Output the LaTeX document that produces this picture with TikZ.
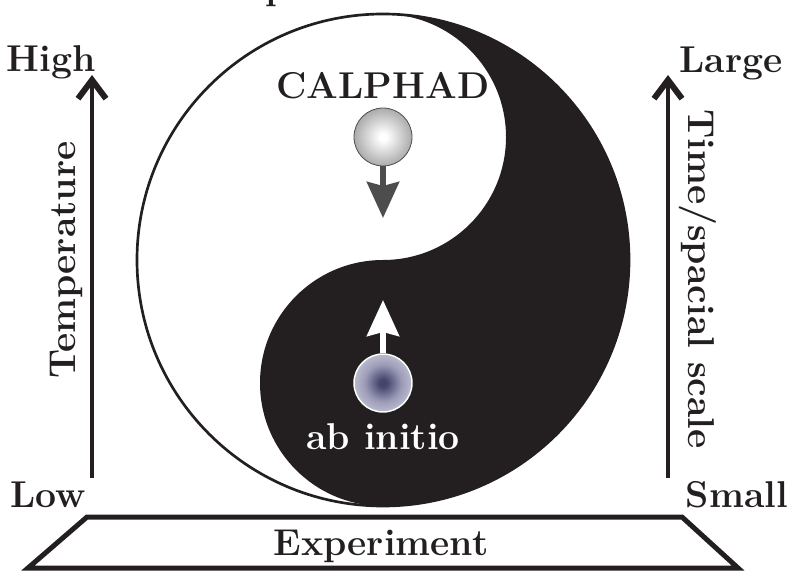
\documentclass[tikz,border=0pt]{standalone}
\usepackage{tikz}
\usetikzlibrary{positioning, arrows.meta, shapes}
\definecolor{ink}{HTML}{231F20}
\definecolor{arrowgray}{HTML}{4D4D4D}
\definecolor{ballmid}{HTML}{ABABAB}
\definecolor{ballgray}{HTML}{7C7C7C}
\definecolor{ballnavy}{HTML}{44446C}
\definecolor{ballhaze}{HTML}{9C9CB8}
\definecolor{balllilac}{HTML}{D8D8E4}
\pgfdeclareradialshading{calshade}{\pgfpoint{0bp}{0bp}}{color(0bp)=(white); color(3bp)=(white); color(25bp)=(ballmid); color(50bp)=(ballgray)}
\pgfdeclareradialshading{abshade}{\pgfpoint{0bp}{0bp}}{color(0bp)=(ballnavy); color(3bp)=(ballnavy); color(16bp)=(ballhaze); color(34bp)=(balllilac); color(50bp)=(balllilac)}
\tikzstyle{axarrow} = [ink, line width=3pt, -{Straight Barb[length=14pt,width=21pt,line width=4.5pt,line join=miter,line cap=butt]}]
\tikzstyle{calarrow} = [arrowgray, line width=4.5pt, -{Stealth[length=27pt,width=24pt,inset=3pt]}]
\tikzstyle{abarrow} = [white, line width=4.5pt, -{Stealth[length=27pt,width=24pt,inset=3pt]}]
\tikzstyle{ball} = [circle, minimum size=43.5pt, inner sep=0pt]
\tikzstyle{lbl} = [text=ink, inner sep=0pt]

\begin{document}
\begin{tikzpicture}[x=0.75pt, y=0.75pt]
                \tikzstyle{every node}=[font=\fontsize{28}{32}\selectfont\bfseries]
                \useasboundingbox (0,0) rectangle (799,576);
                \coordinate (yy) at (383,316);
                \fill [ink] (383,562) arc[start angle=90, end angle=-90, radius=246]
                      arc[start angle=-90, end angle=-270, radius=123]
                      arc[start angle=-90, end angle=90, radius=123] -- cycle;
                \draw [ink, line width=2pt] (yy) circle[radius=246];
                \node (calball) [ball, shading=calshade, draw=ink!80, line width=0.6pt] at (383,439) {};
                \node (abball) [ball, shading=abshade, draw=white, line width=1.1pt] at (383,193) {};
                \node (calphad) [lbl, above=6pt of calball] {CALPHAD};
                \node (abinitio) [lbl, text=white, below=8pt of abball] {ab initio};
                \coordinate (caltip) at (383,358);
                \coordinate (abtip) at (383,276);
                \draw [calarrow] (calball) -- (caltip);
                \draw [abarrow] (abball) -- (abtip);
                \coordinate (lbot) at (92,98);
                \coordinate (ltop) at (92,501);
                \coordinate (rbot) at (668,98);
                \coordinate (rtop) at (668,501);
                \draw [axarrow] (lbot) -- (ltop);
                \draw [axarrow] (rbot) -- (rtop);
                \node (high) [lbl, anchor=base] at (51,504) {High};
                \node (low) [lbl, anchor=base] at (48,69) {Low};
                \node (large) [lbl, anchor=base] at (731,503) {Large};
                \node (small) [lbl, anchor=base] at (737,69) {Small};
                \node (temp) [lbl, rotate=90] at (66,316) {Temperature};
                \node (timescale) [lbl, rotate=-90] at (698,297) {Time/spacial scale};
                \draw [ink, line width=3.75pt, line join=miter] (87,59) -- (682,59) -- (738,8) -- (28,8) -- cycle;
                \node (experiment) [lbl, anchor=base] at (381,21) {Experiment};
                \node (titlecut) [lbl, anchor=base west] at (265,576) {p};
        \end{tikzpicture}
\end{document}
